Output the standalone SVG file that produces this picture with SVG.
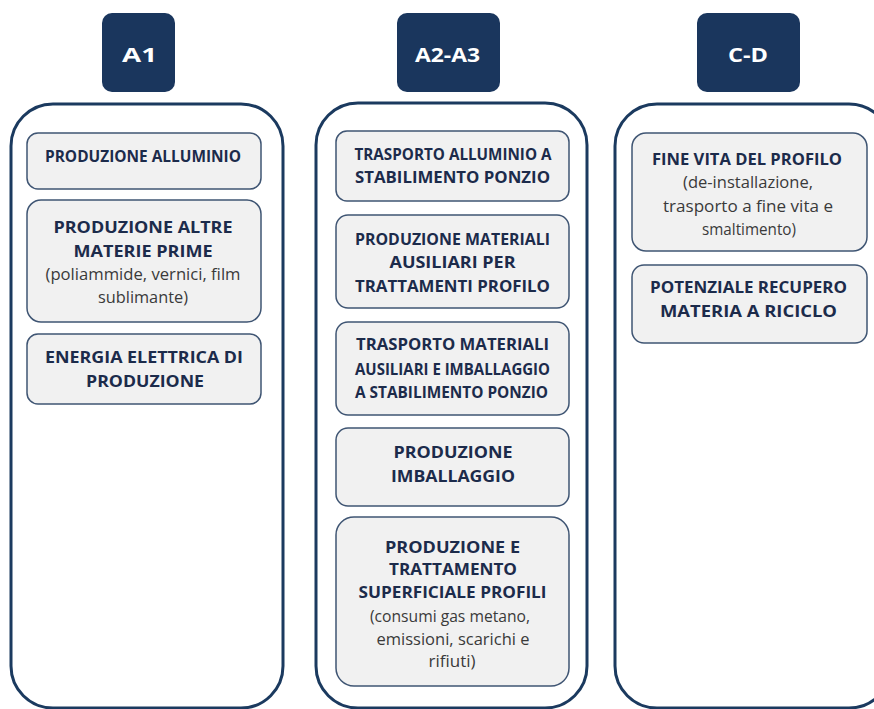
<svg xmlns="http://www.w3.org/2000/svg" width="874" height="709" viewBox="0 0 874 709">
<style>
.col{fill:#ffffff;stroke:#1b3a5f;stroke-width:3}
.hdr{fill:#1a365d}
.hdrt{fill:#ffffff;font-family:"Open Sans","Liberation Sans",sans-serif;font-weight:bold;font-size:20px;text-anchor:middle}
.box{fill:#f1f1f1;stroke:#3f5573;stroke-width:1.5}
.t{fill:#1c2b4b;font-family:"Open Sans","Liberation Sans",sans-serif;font-weight:bold;font-size:16px;text-anchor:middle}
.s{fill:#3a3a3a;font-family:"Open Sans","Liberation Sans",sans-serif;font-size:15.5px;text-anchor:middle}
</style>
<rect width="874" height="709" fill="#ffffff"/>
<g id="col-a1">
<rect class="col" x="11" y="104" width="272" height="604" rx="42"/>
<rect class="hdr" x="102" y="13" width="73" height="79" rx="10"/>
<text class="hdrt" x="139.5" y="62" textLength="35" lengthAdjust="spacingAndGlyphs">A1</text>
</g>
<g id="col-a2a3">
<rect class="col" x="316" y="103" width="271" height="605" rx="42"/>
<rect class="hdr" x="397" y="13" width="103" height="79" rx="10"/>
<text class="hdrt" x="447.5" y="62" textLength="65" lengthAdjust="spacingAndGlyphs">A2-A3</text>
</g>
<g id="col-cd">
<rect class="col" x="615" y="104" width="276" height="604" rx="42"/>
<rect class="hdr" x="697" y="13" width="103" height="79" rx="10"/>
<text class="hdrt" x="748" y="62" textLength="40" lengthAdjust="spacingAndGlyphs">C-D</text>
</g>
<g id="a1-1">
<rect class="box" x="27" y="133" width="234" height="56" rx="11"/>
<text class="t" x="143" y="162" textLength="196" lengthAdjust="spacingAndGlyphs">PRODUZIONE ALLUMINIO</text>
</g>
<g id="a1-2">
<rect class="box" x="27" y="200" width="234" height="122" rx="14"/>
<text class="t" x="143" y="233" textLength="179" lengthAdjust="spacingAndGlyphs">PRODUZIONE ALTRE</text>
<text class="t" x="143" y="257" textLength="139" lengthAdjust="spacingAndGlyphs">MATERIE PRIME</text>
<text class="s" x="143" y="280" textLength="195" lengthAdjust="spacingAndGlyphs">(poliammide, vernici, film</text>
<text class="s" x="143" y="303" textLength="90" lengthAdjust="spacingAndGlyphs">sublimante)</text>
</g>
<g id="a1-3">
<rect class="box" x="27" y="334" width="234" height="70" rx="11"/>
<text class="t" x="144" y="363" textLength="198" lengthAdjust="spacingAndGlyphs">ENERGIA ELETTRICA DI</text>
<text class="t" x="145" y="387" textLength="118" lengthAdjust="spacingAndGlyphs">PRODUZIONE</text>
</g>
<g id="a2-1">
<rect class="box" x="336" y="131" width="233" height="70" rx="11"/>
<text class="t" x="453" y="160" textLength="197" lengthAdjust="spacingAndGlyphs">TRASPORTO ALLUMINIO A</text>
<text class="t" x="452.5" y="183" textLength="195" lengthAdjust="spacingAndGlyphs">STABILIMENTO PONZIO</text>
</g>
<g id="a2-2">
<rect class="box" x="336" y="215" width="233" height="93" rx="12"/>
<text class="t" x="452.5" y="245" textLength="195" lengthAdjust="spacingAndGlyphs">PRODUZIONE MATERIALI</text>
<text class="t" x="452.5" y="268" textLength="126" lengthAdjust="spacingAndGlyphs">AUSILIARI PER</text>
<text class="t" x="452.5" y="292" textLength="195" lengthAdjust="spacingAndGlyphs">TRATTAMENTI PROFILO</text>
</g>
<g id="a2-3">
<rect class="box" x="336" y="322" width="233" height="93" rx="12"/>
<text class="t" x="452.5" y="350" textLength="193" lengthAdjust="spacingAndGlyphs">TRASPORTO MATERIALI</text>
<text class="t" x="452.5" y="375" textLength="195" lengthAdjust="spacingAndGlyphs">AUSILIARI E IMBALLAGGIO</text>
<text class="t" x="451.5" y="398" textLength="193" lengthAdjust="spacingAndGlyphs">A STABILIMENTO PONZIO</text>
</g>
<g id="a2-4">
<rect class="box" x="336" y="428" width="233" height="78" rx="12"/>
<text class="t" x="453" y="458" textLength="119" lengthAdjust="spacingAndGlyphs">PRODUZIONE</text>
<text class="t" x="453" y="482" textLength="124" lengthAdjust="spacingAndGlyphs">IMBALLAGGIO</text>
</g>
<g id="a2-5">
<rect class="box" x="336" y="517" width="233" height="169" rx="18"/>
<text class="t" x="452.5" y="553" textLength="135" lengthAdjust="spacingAndGlyphs">PRODUZIONE E</text>
<text class="t" x="453" y="575" textLength="128" lengthAdjust="spacingAndGlyphs">TRATTAMENTO</text>
<text class="t" x="452.5" y="598" textLength="188" lengthAdjust="spacingAndGlyphs">SUPERFICIALE PROFILI</text>
<text class="s" x="450" y="622" textLength="160" lengthAdjust="spacingAndGlyphs">(consumi gas metano,</text>
<text class="s" x="453" y="645" textLength="153" lengthAdjust="spacingAndGlyphs">emissioni, scarichi e</text>
<text class="s" x="452" y="667" textLength="47" lengthAdjust="spacingAndGlyphs">rifiuti)</text>
</g>
<g id="cd-1">
<rect class="box" x="632" y="133" width="235" height="118" rx="14"/>
<text class="t" x="747" y="165" textLength="190" lengthAdjust="spacingAndGlyphs">FINE VITA DEL PROFILO</text>
<text class="s" x="748" y="188" textLength="130" lengthAdjust="spacingAndGlyphs">(de-installazione,</text>
<text class="s" x="748" y="212" textLength="170" lengthAdjust="spacingAndGlyphs">trasporto a fine vita e</text>
<text class="s" x="749" y="235" textLength="94" lengthAdjust="spacingAndGlyphs">smaltimento)</text>
</g>
<g id="cd-2">
<rect class="box" x="632" y="265" width="235" height="78" rx="12"/>
<text class="t" x="748.5" y="293" textLength="197" lengthAdjust="spacingAndGlyphs">POTENZIALE RECUPERO</text>
<text class="t" x="748.5" y="317" textLength="177" lengthAdjust="spacingAndGlyphs">MATERIA A RICICLO</text>
</g>
<g id="connectors"></g>
</svg>
